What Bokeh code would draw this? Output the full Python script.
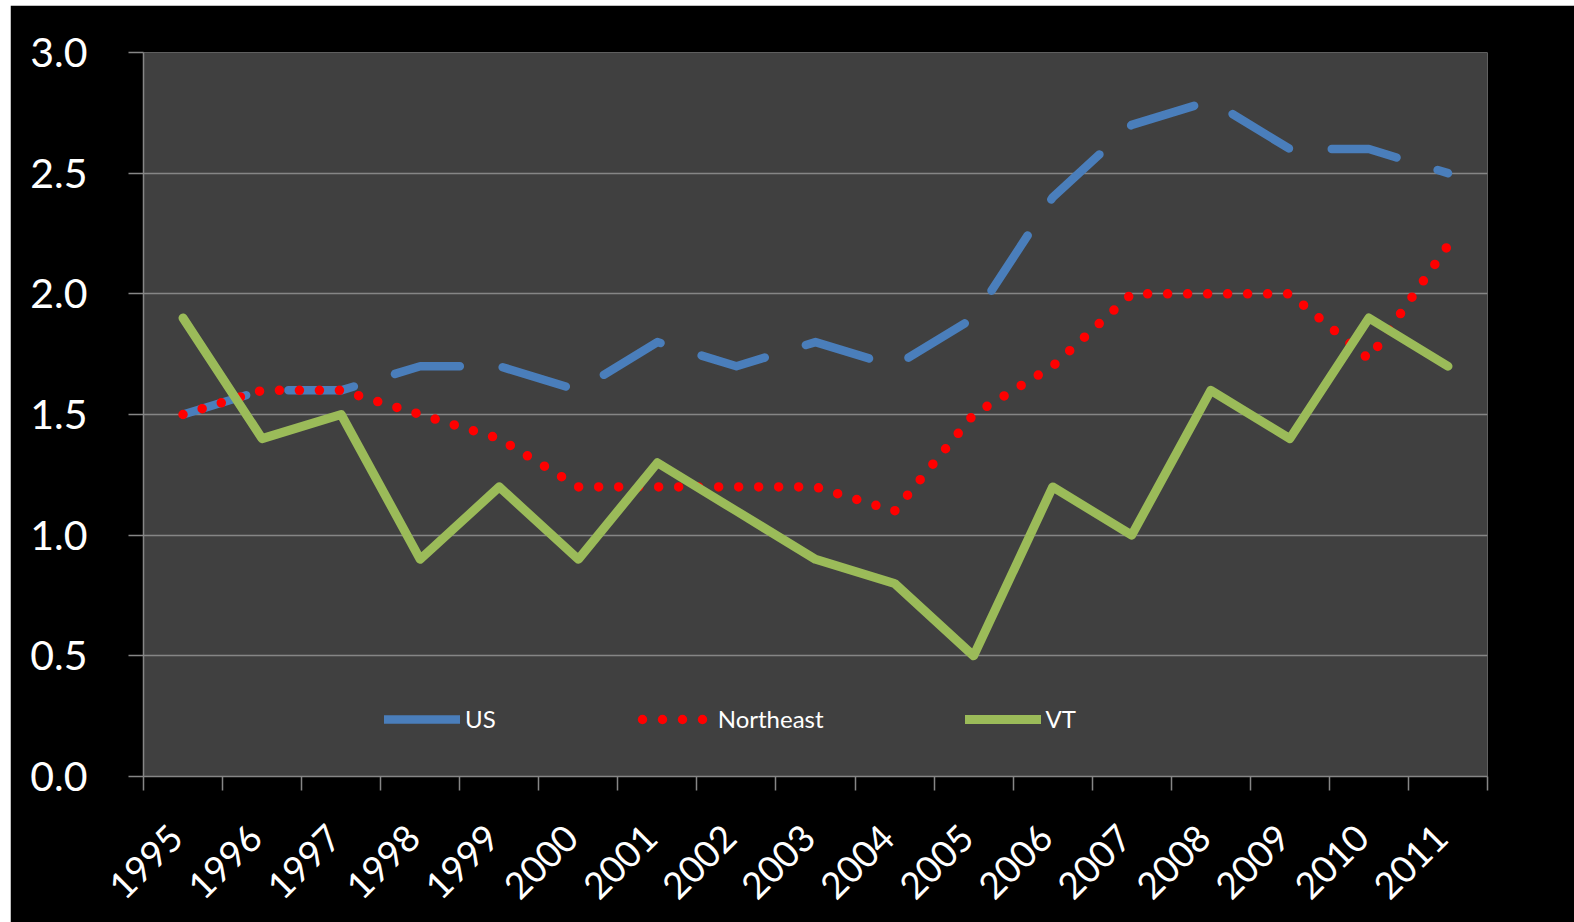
from math import pi

from bokeh.embed import file_html
from bokeh.layouts import column, row
from bokeh.models import (FixedTicker, Legend, LegendItem, NumeralTickFormatter,
                          Range1d, Spacer)
from bokeh.plotting import figure
from bokeh.resources import INLINE

# Annual values, 1995-2011
years = ["1995", "1996", "1997", "1998", "1999", "2000", "2001", "2002", "2003",
         "2004", "2005", "2006", "2007", "2008", "2009", "2010", "2011"]
us = [1.5, 1.6, 1.6, 1.7, 1.7, 1.6, 1.8, 1.7, 1.8, 1.7, 1.9, 2.4, 2.7, 2.8, 2.6, 2.6, 2.5]
northeast = [1.5, 1.6, 1.6, 1.5, 1.4, 1.2, 1.2, 1.2, 1.2, 1.1, 1.5, 1.7, 2.0, 2.0, 2.0, 1.73, 2.2]
vt = [1.9, 1.4, 1.5, 0.9, 1.2, 0.9, 1.3, 1.1, 0.9, 0.8, 0.5, 1.2, 1.0, 1.6, 1.4, 1.9, 1.7]
y_ticks = [0.0, 0.5, 1.0, 1.5, 2.0, 2.5, 3.0]

# each year sits in the middle of its own slot; slot edges carry the tick marks
x = [i + 0.5 for i in range(len(years))]
slot_edges = list(range(len(years) + 1))
# rotated labels hang so that their far end sits right under the slot centre
LABEL_SHIFT = 0.085
label_pos = [xi - LABEL_SHIFT for xi in x]

GRID = "#868686"
FONT = "Lato"
US_COLOR, NE_COLOR, VT_COLOR = "#4A7EBB", "#FF0000", "#9BBB59"

p = figure(width=1564, height=917, output_backend="svg", toolbar_location=None,
           x_range=Range1d(0, len(years)), y_range=Range1d(0, 3.0),
           min_border_left=133, min_border_right=87,
           min_border_top=47, min_border_bottom=146,
           background_fill_color="#404040", border_fill_color="black",
           outline_line_color=None)

# y axis
ya = p.yaxis[0]
ya.ticker = FixedTicker(ticks=y_ticks)
ya.formatter = NumeralTickFormatter(format="0.0")
ya.major_label_text_font = FONT
ya.major_label_text_font_size = "41px"
ya.major_label_text_color = "white"
ya.major_label_standoff = 41
ya.major_tick_out = 15
ya.major_tick_in = 0
ya.major_tick_line_color = GRID
ya.major_tick_line_width = 1.5
ya.minor_tick_line_color = None
ya.axis_line_color = GRID
ya.axis_line_width = 1.5

# x axis: year labels near slot centres, tick marks at slot edges
xa = p.xaxis[0]
xa.ticker = FixedTicker(ticks=label_pos, minor_ticks=slot_edges)
xa.major_label_overrides = {lp: yr for lp, yr in zip(label_pos, years)}
xa.major_label_orientation = pi / 4
xa.major_label_text_font = FONT
xa.major_label_text_font_size = "37px"
xa.major_label_text_color = "white"
xa.major_label_standoff = 41
xa.major_tick_line_color = None
xa.major_tick_out = 0
xa.major_tick_in = 0
xa.minor_tick_out = 14
xa.minor_tick_in = 0
xa.minor_tick_line_color = GRID
xa.minor_tick_line_width = 1.5
xa.axis_line_color = GRID
xa.axis_line_width = 1.5

p.xgrid.visible = False
p.ygrid.grid_line_color = GRID
p.ygrid.grid_line_width = 1.5

us_r = p.line(x, us, line_color=US_COLOR, line_width=8.5, line_dash="66 43",
              line_cap="round", line_join="round")
ne_r = p.line(x, northeast, line_color=NE_COLOR, line_width=9.5, line_dash="0 20",
              line_cap="round", line_join="round")
vt_r = p.line(x, vt, line_color=VT_COLOR, line_width=9,
              line_cap="round", line_join="round")

# legend swatches (nothing drawn in the plot): a solid stroke for US and
# four whole dots for Northeast
nan = float("nan")
us_key = p.line([nan], [nan], line_color=US_COLOR, line_width=8.5, line_cap="round")
ne_key = p.line([nan], [nan], line_color=NE_COLOR, line_width=9.5, line_dash="0 20",
                line_dash_offset=15, line_cap="round")

legend = Legend(
    items=[LegendItem(label="US", renderers=[us_key]),
           LegendItem(label="Northeast", renderers=[ne_key]),
           LegendItem(label="VT", renderers=[vt_r])],
    orientation="horizontal", location=(241, 43),
    glyph_width=76, glyph_height=20, label_standoff=5, spacing=141,
    padding=0, margin=0, background_fill_alpha=0, border_line_alpha=0,
    label_text_color="white", label_text_font=FONT, label_text_font_size="24px",
)
p.add_layout(legend)

layout = column(Spacer(height=5), row(Spacer(width=10), p))

with open("out.html", "w") as f:
    f.write(file_html(layout, INLINE))
